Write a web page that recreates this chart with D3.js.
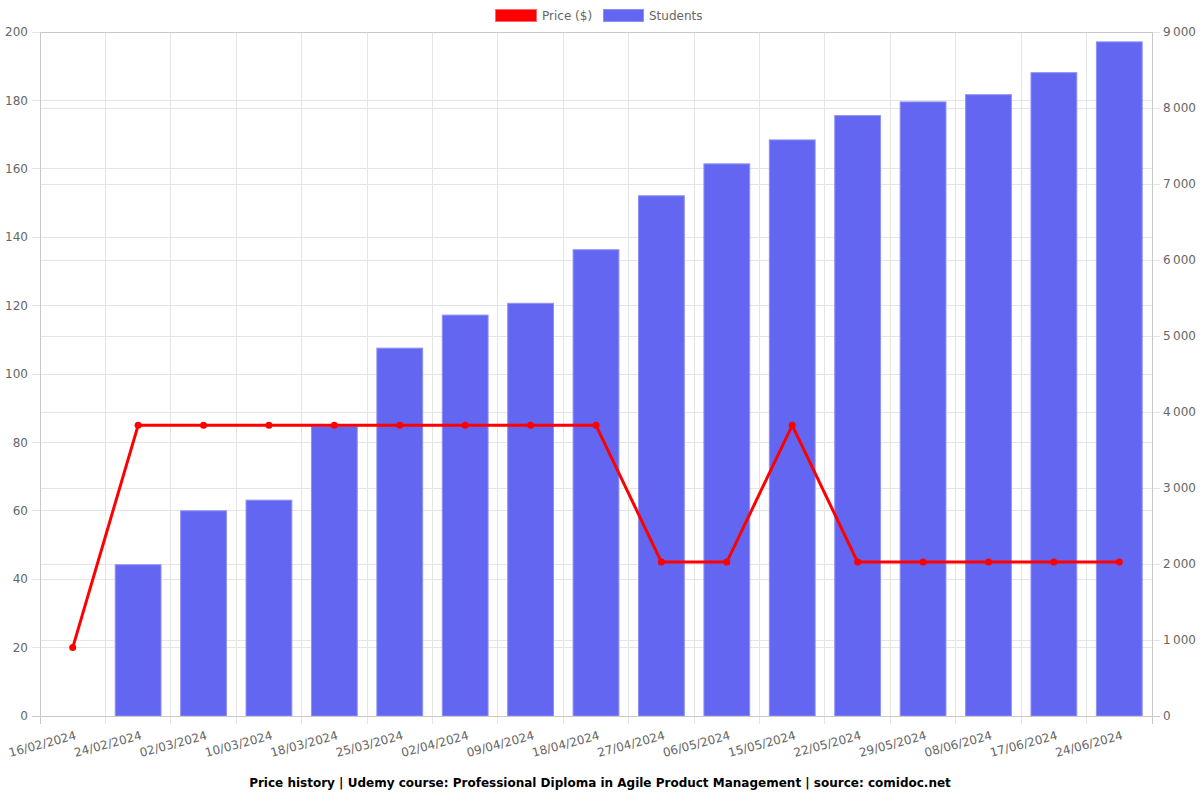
<!DOCTYPE html>
<html>
<head>
<meta charset="utf-8">
<script src="https://cdn.jsdelivr.net/npm/d3@7"></script>
<style>
html,body{margin:0;padding:0;background:#fff;}
svg{display:block;font-family:"DejaVu Sans",sans-serif;}
</style>
</head>
<body>
<svg id="chart" width="1200" height="800"></svg>
<script>
const dates = ["16/02/2024","24/02/2024","02/03/2024","10/03/2024","18/03/2024","25/03/2024","02/04/2024","09/04/2024","18/04/2024","27/04/2024","06/05/2024","15/05/2024","22/05/2024","29/05/2024","08/06/2024","17/06/2024","24/06/2024"];
const price = [20,85,85,85,85,85,85,85,85,45,45,85,45,45,45,45,45];
const students = [0,1990,2700,2840,3810,4840,5275,5430,6135,6845,7265,7580,7900,8080,8175,8465,8870];
const priceTicks = [0,20,40,60,80,100,120,140,160,180,200];
const studentTicks = [0,1000,2000,3000,4000,5000,6000,7000,8000,9000];
const titleText = "Price history | Udemy course: Professional Diploma in Agile Product Management | source: comidoc.net";

const svg = d3.select("#chart");
const L = 40, R = 1152, T = 32, B = 716;
const x = d3.scaleBand().domain(dates).range([L, R]).padding(0);
const yP = d3.scaleLinear().domain([0,200]).range([B, T]);
const yS = d3.scaleLinear().domain([0,9000]).range([B, T]);
const grid = "#e5e5e5", axisCol = "#c8c8c8", txt = "#666";
const fmt = v => d3.format(",")(v).replace(/,/g, "\u202f");

// vertical grid at band boundaries
const bounds = dates.map(d => x(d)).concat([R]);
svg.append("g").selectAll("line").data(bounds).join("line")
  .attr("x1", d => d).attr("x2", d => d).attr("y1", T).attr("y2", B + 8)
  .attr("stroke", (d,i) => (i === 0 || i === bounds.length-1) ? "none" : grid).attr("shape-rendering","crispEdges");
// horizontal grids
svg.append("g").selectAll("line").data(priceTicks).join("line")
  .attr("x1", L - 8).attr("x2", R).attr("y1", d => yP(d)).attr("y2", d => yP(d))
  .attr("stroke", grid).attr("shape-rendering","crispEdges");
svg.append("g").selectAll("line").data(studentTicks).join("line")
  .attr("x1", L).attr("x2", R + 8).attr("y1", d => yS(d)).attr("y2", d => yS(d))
  .attr("stroke", grid).attr("shape-rendering","crispEdges");

// bars
const bw = x.bandwidth() * 0.7;
svg.append("g").selectAll("rect").data(dates.map((d,i)=>({d, v: students[i]})).filter(o => o.v > 0)).join("rect")
  .attr("x", o => x(o.d) + (x.bandwidth() - bw)/2)
  .attr("width", bw)
  .attr("y", o => yS(o.v))
  .attr("height", o => B - yS(o.v))
  .attr("fill", "#6366f1").attr("stroke", "#8d90f6").attr("stroke-width", 1);

// axes lines
svg.append("line").attr("x1", L).attr("x2", L).attr("y1", T).attr("y2", B + 8).attr("stroke", axisCol).attr("shape-rendering","crispEdges");
svg.append("line").attr("x1", R).attr("x2", R).attr("y1", T).attr("y2", B + 8).attr("stroke", axisCol).attr("shape-rendering","crispEdges");
svg.append("line").attr("x1", L - 8).attr("x2", R + 8).attr("y1", B).attr("y2", B).attr("stroke", axisCol).attr("shape-rendering","crispEdges");
svg.append("line").attr("x1", L).attr("x2", R).attr("y1", T).attr("y2", T).attr("stroke", axisCol).attr("shape-rendering","crispEdges");

// left tick labels
svg.append("g").selectAll("text").data(priceTicks).join("text")
  .attr("x", L - 12).attr("y", d => yP(d)).attr("dy", "0.35em")
  .attr("text-anchor", "end").attr("font-size", 12).attr("fill", txt).text(d => d);
// right tick labels
svg.append("g").selectAll("text").data(studentTicks).join("text")
  .attr("x", R + 11).attr("y", d => yS(d)).attr("dy", "0.35em")
  .attr("text-anchor", "start").attr("font-size", 12).attr("fill", txt).text(d => fmt(d));
// x labels
svg.append("g").selectAll("text").data(dates).join("text")
  .attr("transform", d => `translate(${x(d) + x.bandwidth()/2 + 2},${B + 15}) rotate(-15)`)
  .attr("text-anchor", "end").attr("dy", "0.7em")
  .attr("font-size", 12).attr("fill", txt).text(d => d);

// price line
const line = d3.line().x((v,i) => x(dates[i]) + x.bandwidth()/2).y(v => yP(v));
svg.append("path").datum(price).attr("d", line).attr("fill", "none").attr("stroke", "#ff0000").attr("stroke-width", 3).attr("stroke-linejoin","round");
svg.append("g").selectAll("circle").data(price).join("circle")
  .attr("cx", (v,i) => x(dates[i]) + x.bandwidth()/2).attr("cy", v => yP(v)).attr("r", 3.5).attr("fill", "#ff0000");

// legend
const lg = svg.append("g");
lg.append("rect").attr("x", 495.5).attr("y", 9.5).attr("width", 41).attr("height", 12).attr("fill", "#ff0000").attr("stroke", "#ff6666");
lg.append("text").attr("x", 542).attr("y", 20).attr("font-size", 12).attr("fill", txt).text("Price ($)");
lg.append("text").attr("x", 649).attr("y", 20).attr("font-size", 12).attr("fill", txt).text("Students");
lg.append("rect").attr("x", 603.5).attr("y", 9.5).attr("width", 40).attr("height", 12).attr("fill", "#6366f1").attr("stroke", "#8d90f6");

// title
svg.append("text").attr("x", 600).attr("y", 787).attr("text-anchor", "middle")
  .attr("font-size", 12).attr("font-weight", "bold").attr("fill", "#000").text(titleText);
</script>
</body>
</html>
